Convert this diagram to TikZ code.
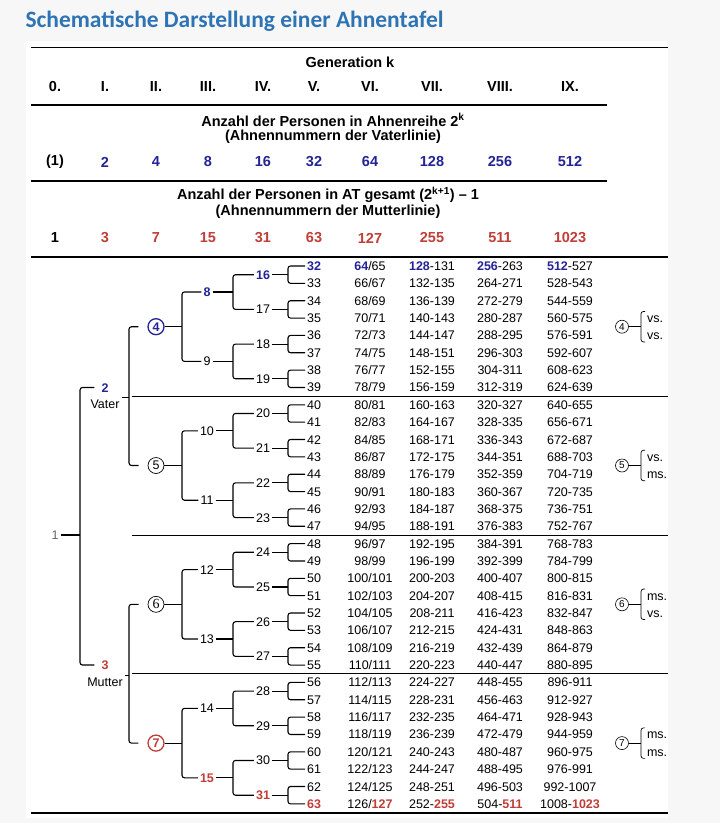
\documentclass[tikz,border=0pt]{standalone}
\usepackage{fontspec}
\usepackage{graphicx}
\setmainfont{Liberation Sans}
\newfontfamily\titlefont{Carlito}
\newfontfamily\serifnum{Liberation Serif}

\definecolor{ahnblue}{RGB}{36,36,150}
\definecolor{ahnred}{RGB}{192,62,56}
\definecolor{titleblue}{RGB}{46,116,181}
\definecolor{paper}{RGB}{247,247,248}

\tikzset{
  num/.style={inner sep=1.5pt, text height=9pt, text depth=0pt, font=\fontsize{12.5}{14}\selectfont},
  vat/.style={num, text=ahnblue, font=\fontsize{12.5}{14}\selectfont\bfseries},
  mut/.style={num, text=ahnred, font=\fontsize{12.5}{14}\selectfont\bfseries},
  hd/.style={inner sep=1.5pt, font=\fontsize{14.5}{17}\selectfont\bfseries},
  circ/.style={circle, draw, inner sep=0pt, minimum size=16pt, line width=0.7pt, font=\fontsize{12.5}{14}\selectfont},
  side/.style={circle, draw, inner sep=0pt, minimum size=13pt, line width=0.6pt, font=\fontsize{10}{12}\selectfont},
  rule/.style={line width=2pt},
  thinrule/.style={line width=0.9pt}
}

% brace from a parent to two children: [options]{parent}{spine x}{upper}{lower}
\newcommand{\ahn}[5][]{%
  \draw[rounded corners=2.5pt,#1] (#4) -- (#3,0 |- #4) -- (#3,0 |- #5) -- (#5);
  \draw (#2) -- (#3,0 |- #2);
}

\begin{document}
\begin{tikzpicture}[x=1pt,y=-1pt,line width=1.1pt]
\useasboundingbox (0,0) rectangle (720,823);
\fill[paper] (0,0) rectangle (720,823);
\fill[white] (26,41) rectangle (668,818);

\node[anchor=west, inner sep=0pt, text=titleblue] (title) at (25,21)
  {\resizebox{418pt}{!}{\titlefont\bfseries Schematische Darstellung einer Ahnentafel}};

% header
\draw[line width=1.7pt] (31,47.5) -- (668,47.5);
\node[hd] (gen) at (350,62) {Generation k};
\foreach \x/\t [count=\i from 0] in {55/0.,105/I.,156/II.,208/III.,263/IV.,314/V.,370/VI.,432/VII.,500/VIII.,570/IX.}
  \node[hd] (g\i) at (\x,87) {\t};
\draw[line width=1.3pt] (31,105) -- (607,105);

\node[hd] (va1) at (333,120) {Anzahl der Personen in Ahnenreihe 2\textsuperscript{k}};
\node[hd] (va2) at (333,137) {(Ahnennummern der Vaterlinie)};
\node[hd] (p0) at (55,162) {(1)};
\foreach \x/\t [count=\i] in {105/2,156/4,208/8,263/16,314/32,370/64,432/128,500/256,570/512}
  \node[hd, text=ahnblue] (p\i) at (\x,162) {\t};
\draw[line width=1.3pt] (31,181) -- (607,181);

\node[hd] (mu1) at (328,195) {Anzahl der Personen in AT gesamt (2\textsuperscript{k+1}) – 1};
\node[hd] (mu2) at (328,212) {(Ahnennummern der Mutterlinie)};
\node[hd] (s0) at (55,238) {1};
\foreach \x/\t [count=\i] in {105/3,156/7,208/15,263/31,314/63,370/127,432/255,500/511,570/1023}
  \node[hd, text=ahnred] (s\i) at (\x,238) {\t};
\draw[rule] (31,256.5) -- (668,256.5);

% tree
\node[num, text=black!60] (n1) at (55,535) {1};
\node[vat] (n2) at (105,387.5) {2};
\node[num] (vater) at (105,404) {Vater};
\node[mut] (n3) at (105,665) {3};
\node[num] (mutter) at (105,682) {Mutter};

\node[circ, draw=ahnblue, text=ahnblue, line width=1.3pt, font=\fontsize{12.5}{14}\selectfont\bfseries] (n4) at (156,326.7) {4};
\node[circ] (n5) at (156,465.5) {5};
\node[circ, font=\fontsize{14}{15}\selectfont\serifnum] (n6) at (156,604.3) {6};
\node[circ, draw=ahnred, text=ahnred, line width=1.3pt, font=\fontsize{12.5}{14}\selectfont\bfseries] (n7) at (156,743.1) {7};

\node[vat] (n8) at (207,292) {8};
\node[num] (n9) at (207,361.4) {9};
\node[num] (n10) at (207,430.8) {10};
\node[num] (n11) at (207,500.2) {11};
\node[num] (n12) at (207,569.6) {12};
\node[num] (n13) at (207,639) {13};
\node[num] (n14) at (207,708.4) {14};
\node[mut] (n15) at (207,777.8) {15};

\node[vat] (n16) at (263,274.7) {16};
\foreach \m in {17,...,30}
  \node[num] (n\m) at (263,{266+17.35*(2*\m-31.5)}) {\m};
\node[mut] (n31) at (263,795.2) {31};

% leaves and their ancestors in generations VI to IX
\node[vat] (n32) at (314,266) {32};
\node[num] (vi32) at (370,266) {\textcolor{ahnblue}{\bfseries 64}/65};
\node[num] (vii32) at (432,266) {\textcolor{ahnblue}{\bfseries 128}-131};
\node[num] (viii32) at (500,266) {\textcolor{ahnblue}{\bfseries 256}-263};
\node[num] (ix32) at (570,266) {\textcolor{ahnblue}{\bfseries 512}-527};
\foreach \n in {33,...,62} {
  \pgfmathsetmacro\y{266+17.35*(\n-32)}
  \pgfmathtruncatemacro\a{2*\n}\pgfmathtruncatemacro\b{2*\n+1}
  \pgfmathtruncatemacro\c{4*\n}\pgfmathtruncatemacro\d{4*\n+3}
  \pgfmathtruncatemacro\e{8*\n}\pgfmathtruncatemacro\f{8*\n+7}
  \pgfmathtruncatemacro\g{16*\n}\pgfmathtruncatemacro\h{16*\n+15}
  \node[num] (n\n) at (314,\y) {\n};
  \node[num] (vi\n) at (370,\y) {\a/\b};
  \node[num] (vii\n) at (432,\y) {\c-\d};
  \node[num] (viii\n) at (500,\y) {\e-\f};
  \node[num] (ix\n) at (570,\y) {\g-\h};
}
\node[mut] (n63) at (314,803.9) {63};
\node[num] (vi63) at (370,803.9) {126/\textcolor{ahnred}{\bfseries 127}};
\node[num] (vii63) at (432,803.9) {252-\textcolor{ahnred}{\bfseries 255}};
\node[num] (viii63) at (500,803.9) {504-\textcolor{ahnred}{\bfseries 511}};
\node[num] (ix63) at (570,803.9) {1008-\textcolor{ahnred}{\bfseries 1023}};

% braces
\ahn[shorten <=5pt, shorten >=5pt]{n1.east}{80}{n2.west}{n3.west}
\ahn[shorten <=9pt, shorten >=9pt]{vater.north east}{129}{n4.west}{n5.west}
\ahn[shorten <=9pt, shorten >=9pt]{mutter.north east}{129}{n6.west}{n7.west}
\foreach \p in {4,...,7} {
  \pgfmathtruncatemacro\a{2*\p}\pgfmathtruncatemacro\b{2*\p+1}
  \ahn{n\p.east}{182}{n\a.west}{n\b.west}
}
\foreach \p in {8,...,15} {
  \pgfmathtruncatemacro\a{2*\p}\pgfmathtruncatemacro\b{2*\p+1}
  \ahn{n\p.east}{233}{n\a.west}{n\b.west}
}
\foreach \p in {16,...,31} {
  \pgfmathtruncatemacro\a{2*\p}\pgfmathtruncatemacro\b{2*\p+1}
  \ahn{n\p.east}{288}{n\a.west}{n\b.west}
}

% separators
\draw[thinrule] (132,396) -- (668,396);
\draw[thinrule] (132,535) -- (668,535);
\draw[thinrule] (132,673.7) -- (668,673.7);
\draw[rule] (31,813) -- (668,813);

% right side notes
\foreach \k/\y/\s/\t in {4/326.7/vs./vs.,5/465.5/vs./ms.,6/604.3/ms./vs.,7/743.1/ms./ms.} {
  \node[side] (r\k) at (622,\y) {\k};
  \node[num, anchor=west] (rt\k) at (645,{\y-8.7}) {\s};
  \node[num, anchor=west] (rb\k) at (645,{\y+8.7}) {\t};
  \ahn[line width=0.7pt]{r\k.east}{641}{rt\k.north west}{rb\k.south west}
}
\end{tikzpicture}
\end{document}
